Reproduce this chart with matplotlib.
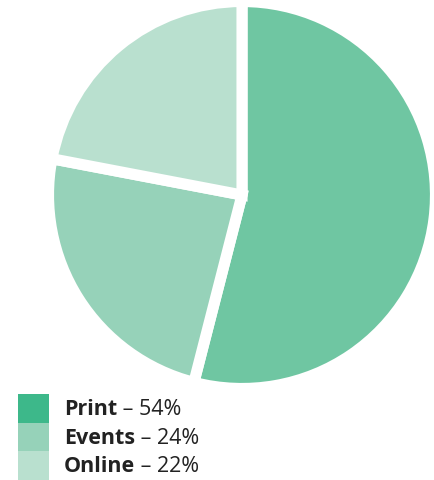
import matplotlib.pyplot as plt
from matplotlib.patches import Rectangle

labels = ["Print", "Events", "Online"]
shares = [54, 24, 22]
slice_colors = ["#6fc6a2", "#96d2b9", "#b9e0cf"]
key_colors = ["#3db88a", "#96d2b9", "#b9e0cf"]

plt.rcParams['font.family'] = ['Open Sans', 'DejaVu Sans']

fig = plt.figure(figsize=(4.34, 4.81), dpi=100)
W, H = 434, 481

# pie area
ax = fig.add_axes([46 / W, 1 - 392 / H, 392 / W, 392 / H])
ax.pie(shares, colors=slice_colors, startangle=90, counterclock=False,
       wedgeprops=dict(edgecolor="white", linewidth=8))
ax.set_xlim(-1.013, 1.013)
ax.set_ylim(-1.013, 1.013)
ax.set_aspect("equal")
ax.axis("off")

# key below the pie
top = 395
row_h = 28.7
for i, (lab, val, col) in enumerate(zip(labels, shares, key_colors)):
    y0 = top + i * row_h
    fig.patches.append(Rectangle((18 / W, 1 - (y0 + row_h) / H), 31 / W, row_h / H,
                                 transform=fig.transFigure, facecolor=col,
                                 edgecolor="none"))
    yc = 1 - (y0 + row_h / 2) / H
    t = fig.text(64 / W, yc, lab, fontsize=15.5, fontweight="bold",
                 color="#222222", va="center")
    fig.canvas.draw()
    bb = t.get_window_extent()
    fig.text(bb.x1 / W, yc, " \u2013 %d%%" % val, fontsize=15.5,
             color="#222222", va="center")

fig.savefig("out.png", dpi=100)
